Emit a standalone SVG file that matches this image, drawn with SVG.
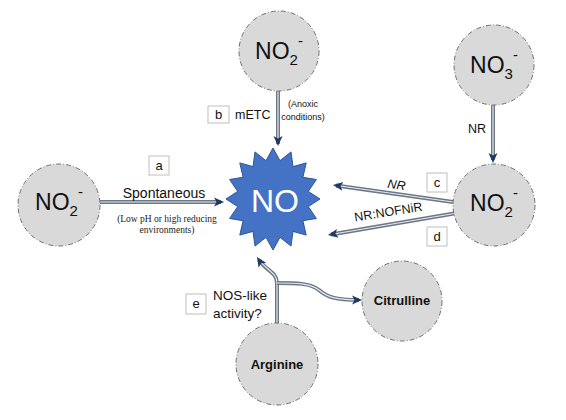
<svg xmlns="http://www.w3.org/2000/svg" width="566" height="420" viewBox="0 0 566 420">
<defs>
<marker id="ah" markerUnits="userSpaceOnUse" markerWidth="12" markerHeight="10" refX="10" refY="5" orient="auto">
<path d="M0,0.5 L10,5 L0,9.5 L2.5,5 z" fill="#1f3864"/>
</marker>
<style>
.c{fill:#d9d9d9;stroke:#6f6f6f;stroke-width:1;stroke-dasharray:5 2 1 2}
.big{font-family:"Liberation Sans",Arial,sans-serif;font-size:23px;fill:#111}
.sub{font-size:15px}
.sup{font-size:15px}
.bold{font-family:"Liberation Sans",Arial,sans-serif;font-size:13px;font-weight:bold;fill:#111}
.t{font-family:"Liberation Sans",Arial,sans-serif;fill:#111}
.s{font-family:"Liberation Serif","Times New Roman",serif;font-size:9.5px;fill:#222}
.box{fill:#fff;stroke:#bfbfbf;stroke-width:1}
.o{fill:none;stroke:#6b7888;stroke-width:4}
.i{fill:none;stroke:#e4e7ec;stroke-width:1.2;marker-end:url(#ah)}
</style>
</defs>
<rect width="566" height="420" fill="#fff"/>
<g id="connectors">
<path class="o" d="M278,91 L278,144"/><path class="i" d="M278,91 L278,146"/>
<path class="o" d="M100,202 L221,202"/><path class="i" d="M100,202 L224,202"/>
<path class="o" d="M493,105 L493,160"/><path class="i" d="M493,105 L493,163"/>
<path class="o" d="M453,202 L336,185.5"/><path class="i" d="M453,202 L333,185"/>
<path class="o" d="M457,213 L331,234.5"/><path class="i" d="M457,213 L328,235"/>
<path class="o" d="M277,323 L277,283 C277,272 266,271 259,260"/><path class="i" d="M277,323 L277,283 C277,272 266,271 257,257"/>
<path class="o" d="M277,283 C296,283 310,283 319,290 C327,297 335,300 359,300"/><path class="i" d="M277,283 C296,283 310,283 319,290 C327,297 335,300 362,300"/>
</g>
<g id="no">
<polygon points="273,148 280,160.7 291,151.9 293,166.6 306.2,162.9 302.9,177.3 316.4,179.5 308.3,191.4 320,199 308.3,206.6 316.4,218.5 302.9,220.7 306.2,235.1 293,231.4 291,246.1 280,237.3 273,250 266,237.3 255,246.1 253,231.4 239.8,235.1 243.1,220.7 229.6,218.5 237.7,206.6 226,199 237.7,191.4 229.6,179.5 243.1,177.3 239.8,162.9 253,166.6 255,151.9 266,160.7" fill="#4472c4" stroke="#2f5597" stroke-width="1"/>
<text x="275" y="212" text-anchor="middle" class="t" style="font-size:32px;fill:#fff">NO</text>
</g>
<g id="no2-top">
<circle class="c" cx="279" cy="51" r="40"/>
<text x="279" y="59" text-anchor="middle" class="big">NO<tspan class="sub" dy="6">2</tspan><tspan class="sup" dy="-19">-</tspan></text>
</g>
<g id="no3">
<circle class="c" cx="494" cy="65" r="40"/>
<text x="494" y="73" text-anchor="middle" class="big">NO<tspan class="sub" dy="6">3</tspan><tspan class="sup" dy="-19">-</tspan></text>
</g>
<g id="no2-left">
<circle class="c" cx="59" cy="205" r="41"/>
<text x="59" y="210" text-anchor="middle" class="big">NO<tspan class="sub" dy="6">2</tspan><tspan class="sup" dy="-19">-</tspan></text>
</g>
<g id="no2-right">
<circle class="c" cx="494" cy="205" r="41"/>
<text x="494" y="211" text-anchor="middle" class="big">NO<tspan class="sub" dy="6">2</tspan><tspan class="sup" dy="-19">-</tspan></text>
</g>
<g id="citrulline">
<circle class="c" cx="402" cy="301" r="40"/>
<text x="402" y="305" text-anchor="middle" class="bold">Citrulline</text>
</g>
<g id="arginine">
<circle class="c" cx="277" cy="364" r="41"/>
<text x="277" y="369" text-anchor="middle" class="bold">Arginine</text>
</g>
<g id="label-a">
<rect class="box" x="149" y="156" width="20" height="19"/>
<text x="159" y="170" text-anchor="middle" class="t" style="font-size:13px">a</text>
<text x="164" y="198" text-anchor="middle" class="t" style="font-size:14px">Spontaneous</text>
<text x="167" y="222" text-anchor="middle" class="s">(Low pH or high  reducing</text>
<text x="167" y="233" text-anchor="middle" class="s">environments)</text>
</g>
<g id="label-b">
<rect class="box" x="208" y="106" width="21" height="17"/>
<text x="218.5" y="119" text-anchor="middle" class="t" style="font-size:13px">b</text>
<text x="235" y="119" class="t" style="font-size:12.5px">mETC</text>
<text x="303" y="107" text-anchor="middle" class="t" style="font-size:9px">(Anoxic</text>
<text x="303" y="120" text-anchor="middle" class="t" style="font-size:9px">conditions)</text>
</g>
<g id="label-nr">
<text x="468" y="133" class="t" style="font-size:12.5px">NR</text>
</g>
<g id="label-c">
<rect class="box" x="427" y="173" width="20" height="19"/>
<text x="437" y="187" text-anchor="middle" class="t" style="font-size:13px">c</text>
<text x="0" y="0" text-anchor="middle" class="t" style="font-size:12.5px;font-style:italic" transform="translate(396,189) rotate(8)">NR</text>
</g>
<g id="label-d">
<rect class="box" x="427" y="227" width="20" height="19"/>
<text x="437" y="241" text-anchor="middle" class="t" style="font-size:13px">d</text>
<text x="0" y="0" text-anchor="middle" class="t" style="font-size:12.5px" transform="translate(389,216) rotate(-9)">NR:NOFNiR</text>
</g>
<g id="label-e">
<rect class="box" x="186" y="294" width="20" height="20"/>
<text x="196" y="308" text-anchor="middle" class="t" style="font-size:13px">e</text>
<text x="213" y="300" class="t" style="font-size:13.5px">NOS-like</text>
<text x="213" y="318" class="t" style="font-size:13.5px">activity?</text>
</g>
</svg>
